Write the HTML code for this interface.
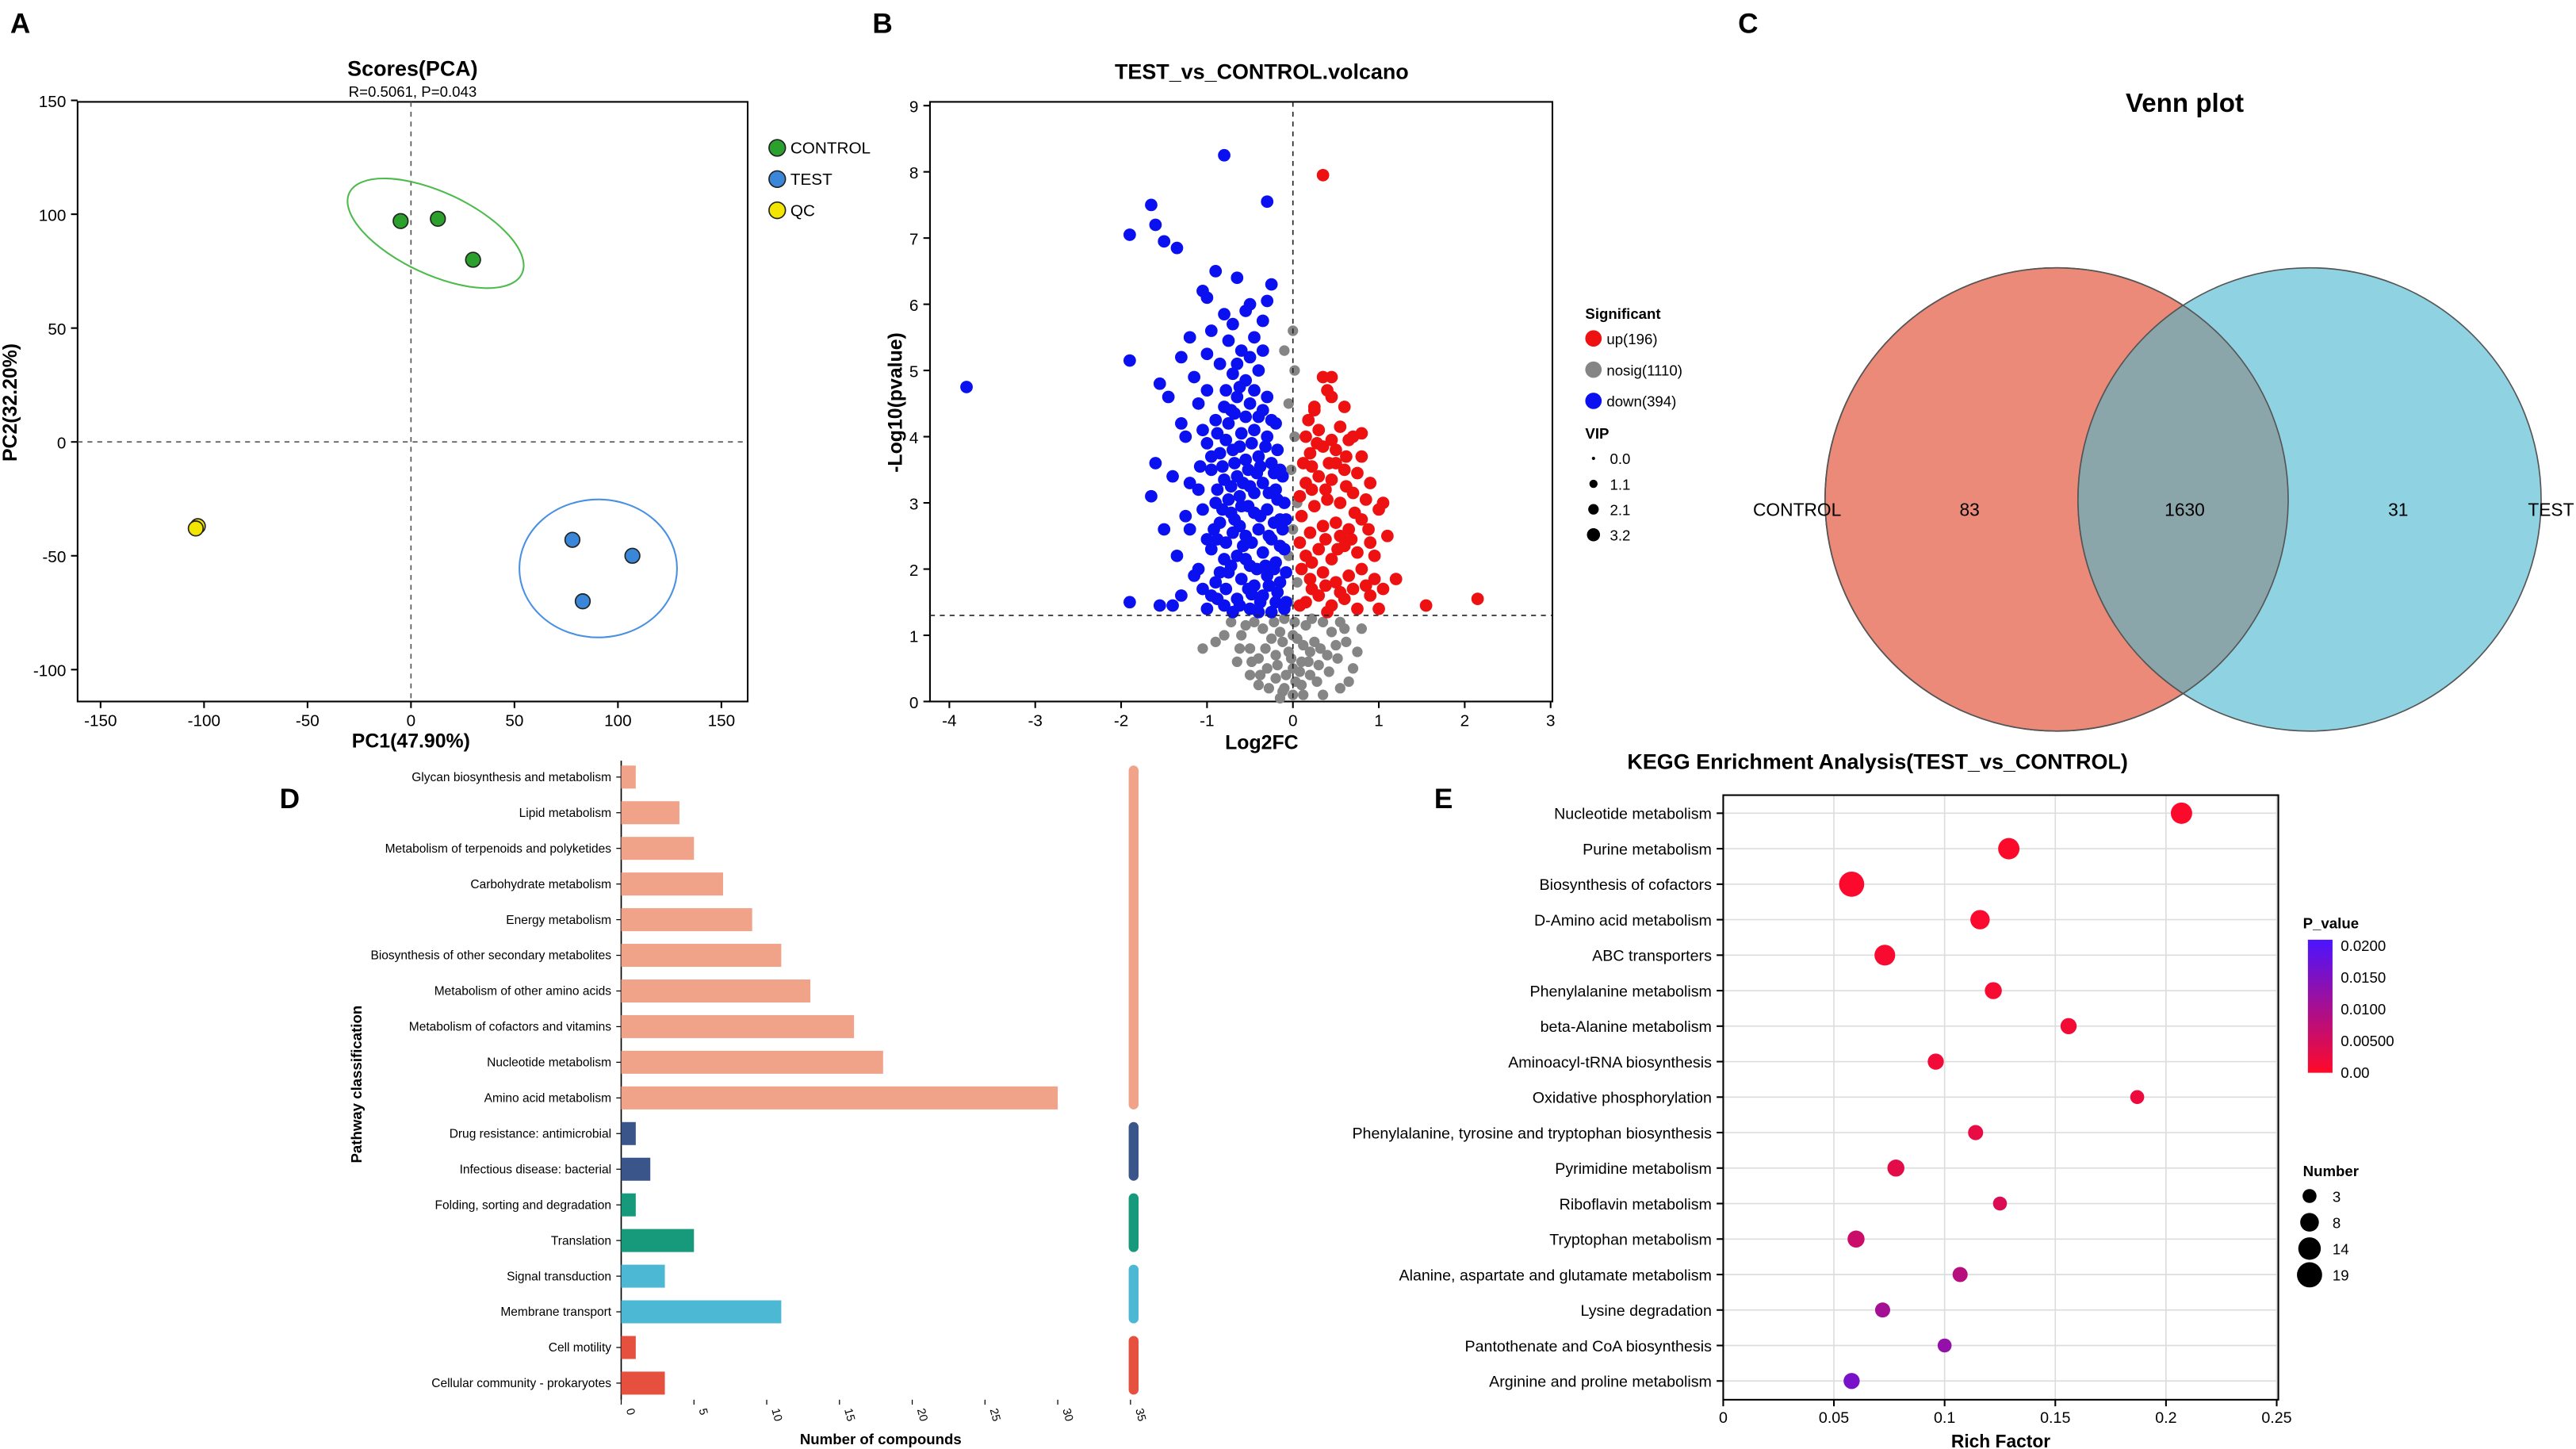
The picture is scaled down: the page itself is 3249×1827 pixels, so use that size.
<!DOCTYPE html>
<html><head><meta charset="utf-8"><style>
html,body{margin:0;padding:0;background:#fff}
svg{display:block;font-family:"Liberation Sans",Arial,sans-serif}
</style></head><body>
<svg id="fig" xmlns="http://www.w3.org/2000/svg" width="3249" height="1827" viewBox="0 0 1568 882">
<g id="static">
<text x="6" y="20" font-size="17" font-weight="bold">A</text>
<text x="531" y="20" font-size="17" font-weight="bold">B</text>
<text x="1058" y="20" font-size="17" font-weight="bold">C</text>
<text x="170" y="492" font-size="17" font-weight="bold">D</text>
<text x="873" y="492" font-size="17" font-weight="bold">E</text>
</g>
<g id="pca"></g><g id="volcano"></g><g id="venn"></g><g id="bars"></g><g id="kegg"></g>
</svg>
<script>
// ---------- PCA data ----------
const pcaGroups=["CONTROL","TEST","QC"];
const pcaColors=["#2ca02c","#3a86d8","#f2e600"];
const pcaPC1=[-5,13,30,78,107,83,-103,-104];
const pcaPC2=[97,98,80,-43,-50,-70,-37,-38];
const pcaGroupOf=[0,0,0,1,1,1,2,2];
const pcaTicks=[-150,-100,-50,0,50,100,150];
const pcaYTicks=[-100,-50,0,50,100,150];
// ---------- Volcano data ----------
const blueX=[-3.8,-0.8,-1.9,-1.65,-1.6,-1.5,-1.35,-1.05,-1.0,-0.3,-1.9,-1.55,-1.45,-1.65,-1.5,-1.9,-1.55,-1.4,-1.25,-1.2,-1.3,-0.2,-0.35,-0.5,-0.65,-0.8,-0.95,-0.15,-0.3,-0.45,-0.6,-0.75,-0.9,-1.05,-0.2,-0.35,-0.5,-0.65,-0.8,-0.95,-1.1,-0.25,-0.4,-0.55,-0.7,-0.85,-1.0,-0.15,-0.3,-0.45,-0.6,-0.75,-0.9,-1.05,-0.2,-0.35,-0.5,-0.65,-0.8,-0.95,-0.25,-0.4,-0.55,-0.7,-0.85,-1.0,-0.3,-0.45,-0.6,-0.75,-0.9,-0.35,-0.5,-0.65,-0.8,-1.1,-0.55,-0.7,-0.4,-0.85,-0.6,-0.45,-0.75,-1.0,-0.35,-0.55,-0.7,-0.3,-0.5,-0.25,-1.15,-1.2,-1.3,-1.1,-1.2,-1.15,-1.3,-0.1,-0.1,-0.1,-0.15,-0.2,-0.12,-0.25,-0.4,-0.7,-1.0,-0.58,-0.72,-0.42,-0.62,-0.48,-0.88,-0.32,-0.68,-0.88,-1.08,-1.25,-1.05,-1.4,-1.35,-1.6,-1.0,-0.95,-0.8,-0.65,-0.9,
-0.08,-0.18,-0.28,-0.38,-0.52,-0.62,-0.78,-0.88,-0.08,-0.22,-0.42,-0.55,-0.72,-0.85,-0.15,-0.28,-0.48,-0.62,-0.78,-0.92,-0.08,-0.22,-0.38,-0.52,-0.68,-0.82,-0.18,-0.28,-0.45,-0.58,-0.72,-0.88,-0.12,-0.22,-0.38,-0.52,-0.68,-0.82,-0.95,-0.18,-0.32,-0.48,-0.62,-0.78,-0.25,-0.4,-0.55,-0.72,-0.45,-0.62,-0.3,-0.78,-0.5,-0.65,-0.35];
const blueY=[4.75,8.25,7.05,7.5,7.2,6.95,6.85,6.2,6.1,7.55,5.15,4.8,4.6,3.1,2.6,1.5,1.45,1.45,2.8,3.3,4.2,1.5,1.6,1.4,1.55,1.45,1.6,1.8,1.9,1.75,1.85,1.95,1.8,1.7,2.1,2.25,2.05,2.2,2.15,2.3,2.0,2.45,2.6,2.5,2.55,2.7,2.45,2.75,2.9,2.85,2.95,3.05,3.0,2.9,3.2,3.3,3.25,3.4,3.35,3.5,3.6,3.7,3.65,3.8,3.75,3.9,4.0,4.1,4.05,4.2,4.25,4.4,4.5,4.6,4.45,4.5,4.85,4.95,5.0,5.1,5.3,5.5,5.45,5.25,5.75,5.9,5.7,6.05,6.0,6.3,4.9,5.5,5.2,3.2,2.6,1.9,1.6,1.4,2.3,3.0,3.5,4.2,2.6,1.35,1.35,1.35,1.4,2.35,2.85,3.45,3.1,1.62,2.45,2.05,4.35,4.05,3.55,4.0,4.1,3.4,2.2,3.6,4.7,5.6,5.85,6.4,6.5,
1.5,1.65,1.75,1.5,1.7,1.45,1.7,1.55,1.95,2.0,2.0,2.15,2.05,1.95,2.35,2.5,2.4,2.65,2.4,2.6,2.75,2.7,2.8,2.95,2.75,2.9,3.05,3.15,3.15,3.3,3.25,3.2,3.4,3.45,3.55,3.5,3.6,3.55,3.7,3.8,3.85,3.9,3.85,3.95,4.25,4.3,4.3,4.4,4.7,4.75,4.6,4.7,5.2,5.1,5.3];
const redX=[0.35,2.15,1.55,1.2,1.05,1.1,0.45,0.25,0.15,0.3,0.45,0.6,0.75,0.9,0.2,0.35,0.5,0.65,0.8,0.95,0.15,0.3,0.45,0.6,0.75,0.9,0.2,0.35,0.5,0.65,0.8,0.25,0.4,0.55,0.7,0.85,0.15,0.3,0.45,0.6,0.75,0.2,0.35,0.5,0.65,0.8,0.15,0.3,0.55,0.7,0.1,0.1,0.12,0.45,0.6,0.25,0.95,1.0,0.9,0.8,0.85,1.05,1.0,0.4,0.55,0.7,0.35,0.4,
0.08,0.22,0.38,0.55,0.08,0.22,0.38,0.52,0.68,0.08,0.22,0.38,0.5,0.22,0.42,0.62,0.28,0.45,0.18,0.62,0.72,0.88];
const redY=[7.95,1.55,1.45,1.85,3.0,2.5,4.9,4.4,1.5,1.6,1.45,1.55,1.4,1.6,1.85,1.95,1.8,1.9,2.0,1.85,2.2,2.3,2.15,2.35,2.25,2.4,2.55,2.65,2.7,2.6,2.75,2.95,3.05,3.0,3.15,3.05,3.3,3.4,3.35,3.5,3.45,3.75,3.85,3.8,3.95,3.7,4.0,4.1,4.15,4.0,2.0,2.8,3.6,4.6,4.45,4.45,2.2,2.9,3.3,4.05,1.75,1.7,1.4,1.35,2.5,1.7,4.9,4.7,
1.45,1.7,1.75,1.65,2.4,2.1,2.45,2.3,2.45,3.1,3.2,3.2,3.6,3.55,3.6,3.25,3.9,3.95,4.25,3.7,2.85,2.6];
const greyX=[0,-0.1,0.1,-0.2,0.2,-0.3,0.3,-0.4,0.4,-0.5,0.5,0,-0.05,0.05,-0.15,0.15,-0.25,0.25,-0.35,0.35,-0.45,0.45,0.6,-0.6,-0.1,0.1,-0.2,0.2,0,-0.05,0.05,-0.05,0,0.05,-0.02,0.02,-0.05,0.02,0,-0.1,0.03,-0.65,0.7,-0.8,0.8,-1.05,-0.9,0.65,-0.4,0.35,-0.15,0.55,-0.5,
-0.12,0.12,-0.28,0.28,-0.38,0.42,-0.48,0.52,-0.08,0.08,-0.18,0.18,-0.32,0.32,-0.12,0.12,-0.22,0.22,-0.55,0.55,0.02,-0.02,0.62,-0.62,-0.72,0.75];
const greyY=[0.1,0.2,0.25,0.35,0.4,0.5,0.55,0.65,0.7,0.8,0.85,0.5,0.75,0.95,1.05,1.15,0.95,0.9,1.1,1.2,1.2,1.05,1.1,1.0,1.25,0.6,0.7,0.75,1.0,1.5,1.8,2.2,2.6,3.0,3.5,4.0,4.5,5.0,5.6,5.3,0.3,0.6,0.5,1.0,1.1,0.8,0.9,0.3,0.25,0.1,0.05,0.2,0.4,
0.15,0.1,0.2,0.3,0.4,0.45,0.6,0.65,0.4,0.45,0.55,0.6,0.8,0.8,0.9,0.85,1.2,1.25,1.15,1.2,1.2,0.65,0.9,0.8,1.2,0.75];
const volXTicks=[-4,-3,-2,-1,0,1,2,3];
const volYTicks=[0,1,2,3,4,5,6,7,8,9];
// ---------- Venn data ----------
const vennSets=["CONTROL","TEST"];
const vennCounts=[83,1630,31];
// ---------- Bar data ----------
const barCats=["Glycan biosynthesis and metabolism","Lipid metabolism","Metabolism of terpenoids and polyketides","Carbohydrate metabolism","Energy metabolism","Biosynthesis of other secondary metabolites","Metabolism of other amino acids","Metabolism of cofactors and vitamins","Nucleotide metabolism","Amino acid metabolism","Drug resistance: antimicrobial","Infectious disease: bacterial","Folding, sorting and degradation","Translation","Signal transduction","Membrane transport","Cell motility","Cellular community - prokaryotes"];
const barVals=[1,4,5,7,9,11,13,16,18,30,1,2,1,5,3,11,1,3];
const barGroup=[0,0,0,0,0,0,0,0,0,0,1,1,2,2,3,3,4,4];
const barColors=["#f1a389","#3a5589","#17997c","#4db8d4","#e5513e"];
const barTicks=[0,5,10,15,20,25,30,35];
// ---------- KEGG data ----------
const keggCats=["Nucleotide metabolism","Purine metabolism","Biosynthesis of cofactors","D-Amino acid metabolism","ABC transporters","Phenylalanine metabolism","beta-Alanine metabolism","Aminoacyl-tRNA biosynthesis","Oxidative phosphorylation","Phenylalanine, tyrosine and tryptophan biosynthesis","Pyrimidine metabolism","Riboflavin metabolism","Tryptophan metabolism","Alanine, aspartate and glutamate metabolism","Lysine degradation","Pantothenate and CoA biosynthesis","Arginine and proline metabolism"];
const keggRich=[0.207,0.129,0.058,0.116,0.073,0.122,0.156,0.096,0.187,0.114,0.078,0.125,0.06,0.107,0.072,0.1,0.058];
const keggNum=[12,12,19,9,11,6,5,5,3,4,6,3,6,4,4,3,5];
const keggP=[0.0003,0.0004,0.0005,0.0006,0.0008,0.001,0.0012,0.0015,0.002,0.0025,0.003,0.004,0.006,0.008,0.01,0.012,0.015];
const keggXTicks=[0,0.05,0.1,0.15,0.2,0.25];
const keggPTicks=[0.02,0.015,0.01,0.005,0];
const keggPLabels=["0.0200","0.0150","0.0100","0.00500","0.00"];
const keggNumLegend=[3,8,14,19];

const NS="http://www.w3.org/2000/svg";
function mk(parent,tag,attrs,text){const e=document.createElementNS(NS,tag);for(const k in attrs)e.setAttribute(k,attrs[k]);if(text!==undefined)e.textContent=text;parent.appendChild(e);return e;}
function T(parent,x,y,s,size,opts){opts=opts||{};const e=mk(parent,'text',{x:x,y:y,'font-size':size,'text-anchor':opts.anchor||'middle','font-weight':opts.bold?'bold':'normal',fill:opts.fill||'#000'},s);if(opts.rot)e.setAttribute('transform','rotate('+opts.rot+' '+x+' '+y+')');return e;}

// ===== PCA =====
(function(){
const g=document.getElementById('pca');
const X=v=>250+v*63/50, Y=v=>269-v*69.3/50;
let r=mk(g,'rect',{x:47,y:62,width:408,height:365,fill:'none',stroke:'#000','stroke-width':1});

mk(g,'line',{x1:X(0),y1:62,x2:X(0),y2:427,stroke:'#555','stroke-dasharray':'3,3','stroke-width':0.8});
mk(g,'line',{x1:47,y1:Y(0),x2:455,y2:Y(0),stroke:'#555','stroke-dasharray':'3,3','stroke-width':0.8});
pcaTicks.forEach(t=>{mk(g,'line',{x1:X(t),y1:427,x2:X(t),y2:431,stroke:'#000'});const e=T(g,X(t),442,String(t),10);});
pcaYTicks.forEach(t=>{mk(g,'line',{x1:43,y1:Y(t),x2:47,y2:Y(t),stroke:'#000'});const e=T(g,40,Y(t)+4,String(t),10,{anchor:'end'});});
let e=T(g,251,46,'Scores(PCA)',13,{bold:true});
e=T(g,251,59,'R=0.5061, P=0.043',9);
e=T(g,250,455,'PC1(47.90%)',12,{bold:true});
e=T(g,10,245,'PC2(32.20%)',12,{bold:true,rot:-90});
e=mk(g,'ellipse',{cx:265,cy:142,rx:58,ry:25,fill:'none',stroke:'#4cbb4c','stroke-width':1,transform:'rotate(25 265 142)'});

e=mk(g,'ellipse',{cx:364,cy:346,rx:48,ry:42,fill:'none',stroke:'#4a90e2','stroke-width':1});

pcaPC1.forEach((v,i)=>{const c=mk(g,'circle',{cx:X(v),cy:Y(pcaPC2[i]),r:4.5,fill:pcaColors[pcaGroupOf[i]],stroke:'#222','stroke-width':0.8});

});
pcaGroups.forEach((n,i)=>{const y=90+i*19;const c=mk(g,'circle',{cx:473,cy:y,r:5,fill:pcaColors[i],stroke:'#222','stroke-width':0.8});


T(g,481,y+3.5,n,10,{anchor:'start'});});
})();

// ===== Volcano =====
(function(){
const g=document.getElementById('volcano');
const X=v=>787+v*52.3, Y=v=>427-v*40.3;
let r=mk(g,'rect',{x:566,y:62,width:379,height:365,fill:'none',stroke:'#000'});

volXTicks.forEach(t=>{mk(g,'line',{x1:X(t),y1:427,x2:X(t),y2:431,stroke:'#000'});T(g,X(t),442,String(t),10);});
volYTicks.forEach(t=>{mk(g,'line',{x1:562,y1:Y(t),x2:566,y2:Y(t),stroke:'#000'});T(g,559,Y(t)+4,String(t),10,{anchor:'end'});});
function dots(xs,ys,col,rad,name){xs.forEach((v,i)=>{const c=mk(g,'circle',{cx:X(v),cy:Y(ys[i]),r:rad,fill:col});

});}
dots(greyX,greyY,'#858585',3.2,'nosig-point');
dots(blueX,blueY,'#0a10f0',3.8,'down-point');
dots(redX,redY,'#ee1111',3.8,'up-point');
mk(g,'line',{x1:X(0),y1:62,x2:X(0),y2:427,stroke:'#222','stroke-dasharray':'3,3','stroke-width':0.8});
mk(g,'line',{x1:566,y1:Y(1.3),x2:945,y2:Y(1.3),stroke:'#222','stroke-dasharray':'3,3','stroke-width':0.8});
let e=T(g,768,48,'TEST_vs_CONTROL.volcano',13,{bold:true});
e=T(g,768,456,'Log2FC',12,{bold:true});
e=T(g,549,245,'-Log10(pvalue)',12,{bold:true,rot:-90});
T(g,965,194,'Significant',9,{anchor:'start',bold:true});
[['up(196)','#ee1111'],['nosig(1110)','#858585'],['down(394)','#0a10f0']].forEach((d,i)=>{const y=206+i*19;const c=mk(g,'circle',{cx:970,cy:y,r:5,fill:d[1]});


T(g,978,y+3.5,d[0],9,{anchor:'start'});});
T(g,965,267,'VIP',9,{anchor:'start',bold:true});
[['0.0',1],['1.1',2.5],['2.1',3.2],['3.2',4]].forEach((d,i)=>{const y=279+i*15.5;const c=mk(g,'circle',{cx:970,cy:y,r:d[1],fill:'#000'});


T(g,980,y+3.5,d[0],9,{anchor:'start'});});
})();

// ===== Venn =====
(function(){
const g=document.getElementById('venn');
let e=T(g,1330,68,'Venn plot',16,{bold:true});
e=mk(g,'circle',{cx:1252,cy:304,r:141,fill:'#eb8a78',stroke:'#555','stroke-width':0.8});
e=mk(g,'circle',{cx:1406,cy:304,r:141,fill:'#8fd3e3',stroke:'#555','stroke-width':0.8});
mk(g,'clipPath',{id:'cl'});document.getElementById('cl').appendChild(document.createElementNS(NS,'circle'));
const cc=document.querySelector('#cl circle');cc.setAttribute('cx',1252);cc.setAttribute('cy',304);cc.setAttribute('r',141);
e=mk(g,'circle',{cx:1406,cy:304,r:141,fill:'#8ba6ab','clip-path':'url(#cl)',stroke:'#555','stroke-width':0.8});
mk(g,'circle',{cx:1252,cy:304,r:141,fill:'none',stroke:'#555','stroke-width':0.8});
T(g,1094,314,vennSets[0],11);T(g,1553,314,vennSets[1],11);
T(g,1199,314,String(vennCounts[0]),11);T(g,1330,314,String(vennCounts[1]),11);T(g,1460,314,String(vennCounts[2]),11);
})();

// ===== Bars =====
(function(){
const g=document.getElementById('bars');
const X=v=>378+v*8.86, Y=i=>473+i*21.7;
mk(g,'line',{x1:378,y1:463,x2:378,y2:852,stroke:'#000','stroke-width':0.8});
barTicks.forEach(t=>{mk(g,'line',{x1:X(t),y1:852,x2:X(t),y2:855,stroke:'#000','stroke-width':0.6});T(g,X(t)+3,858,String(t),7,{anchor:'start',rot:75});});
barCats.forEach((c,i)=>{const b=mk(g,'rect',{x:378,y:Y(i)-7,width:barVals[i]*8.86,height:14,fill:barColors[barGroup[i]]});


mk(g,'line',{x1:375,y1:Y(i),x2:378,y2:Y(i),stroke:'#000','stroke-width':0.6});
T(g,372,Y(i)+2.5,c,7.5,{anchor:'end'});});
for(let k=0;k<barColors.length;k++){const idx=barGroup.map((v,i)=>v===k?i:-1).filter(i=>i>=0);
const s=mk(g,'rect',{x:687,y:Y(idx[0])-7,width:6,height:Y(idx[idx.length-1])-Y(idx[0])+14,rx:3,fill:barColors[k]});

}
let e=T(g,536,879,'Number of compounds',9,{bold:true});
e=T(g,220,660,'Pathway classification',9,{bold:true,rot:-90});
})();

// ===== KEGG =====
(function(){
const g=document.getElementById('kegg');
const X=v=>1049+v*1348, Y=i=>495+i*21.6;
const rad=n=>2+Math.sqrt(n)*1.3;
function pcol(p){const t=Math.min(p/0.02,1);const r=Math.round(255-t*180),gg=Math.round(10+t*10),b=Math.round(40+t*215);return 'rgb('+r+','+gg+','+b+')';}
keggXTicks.forEach(t=>{mk(g,'line',{x1:X(t),y1:484,x2:X(t),y2:852,stroke:'#ddd','stroke-width':0.8});});
keggCats.forEach((c,i)=>{mk(g,'line',{x1:1049,y1:Y(i),x2:1387,y2:Y(i),stroke:'#ddd','stroke-width':0.8});});
let r=mk(g,'rect',{x:1049,y:484,width:338,height:368,fill:'none',stroke:'#000'});

keggXTicks.forEach(t=>{mk(g,'line',{x1:X(t),y1:852,x2:X(t),y2:856,stroke:'#000'});T(g,X(t),866,String(t),9.5);});
keggCats.forEach((c,i)=>{mk(g,'line',{x1:1045,y1:Y(i),x2:1049,y2:Y(i),stroke:'#000'});T(g,1042,Y(i)+3.5,c,9.5,{anchor:'end'});
const d=mk(g,'circle',{cx:X(keggRich[i]),cy:Y(i),r:rad(keggNum[i]),fill:pcol(keggP[i])});

});
let e=T(g,1143,468,'KEGG Enrichment Analysis(TEST_vs_CONTROL)',13,{bold:true});
e=T(g,1218,881,'Rich Factor',11,{bold:true});
T(g,1402,565,'P_value',9,{anchor:'start',bold:true});
const lg=mk(g,'linearGradient',{id:'pg',x1:0,y1:0,x2:0,y2:1});
mk(lg,'stop',{offset:'0','stop-color':pcol(0.021)});mk(lg,'stop',{offset:'1','stop-color':pcol(0)});
e=mk(g,'rect',{x:1405,y:572,width:15,height:81,fill:'url(#pg)'});
keggPTicks.forEach((t,i)=>{const y=653-t/0.021*81;T(g,1425,y+3,keggPLabels[i],9,{anchor:'start'});});
T(g,1402,716,'Number',9,{anchor:'start',bold:true});
keggNumLegend.forEach((n,i)=>{const y=728+i*16;const c=mk(g,'circle',{cx:1406,cy:y,r:rad(n),fill:'#000'});


T(g,1420,y+3.5,String(n),9,{anchor:'start'});});
})();
</script>
</body></html>
